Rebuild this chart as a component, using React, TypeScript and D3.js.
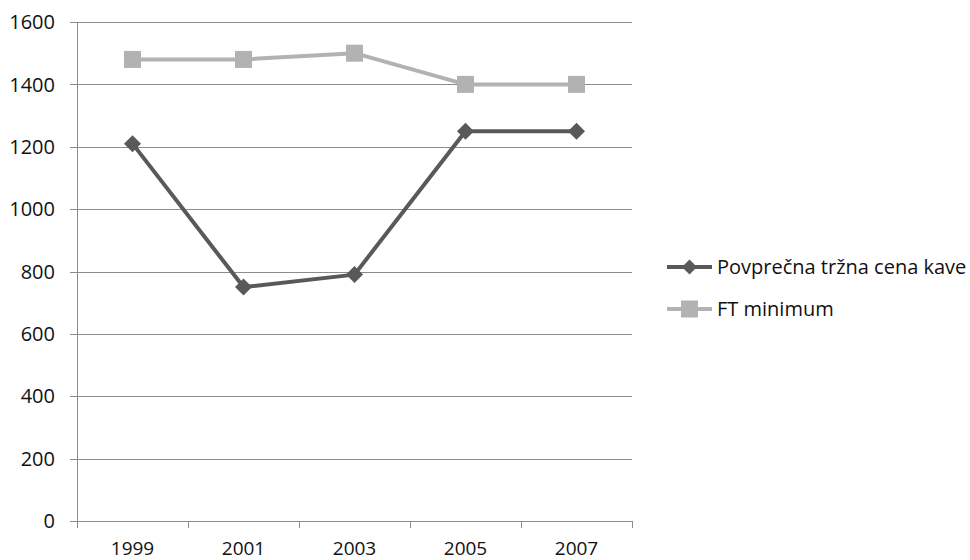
import React from "react";
import * as d3 from "d3";

const years = ["1999", "2001", "2003", "2005", "2007"];
const marketPrice = [1210, 750, 790, 1250, 1250];
const ftMinimum = [1480, 1480, 1500, 1400, 1400];
const yTicks = [0, 200, 400, 600, 800, 1000, 1200, 1400, 1600];
const seriesNames = ["Povprečna tržna cena kave", "FT minimum"];

const W = 970, H = 560;
const left = 77, right = 632, top = 22, bottom = 521;
const FONT = "'Open Sans', sans-serif";
const DARK = "#595959";
const LIGHT = "#b2b2b2";
const GRID = "#8c8c8c";

export default function App() {
  const x = d3.scaleBand<string>().domain(years).range([left, right]).padding(0);
  const y = d3.scaleLinear().domain([0, 1600]).range([bottom, top]);
  const cx = (d: string) => (x(d) as number) + x.bandwidth() / 2;
  const line = d3.line<number>().x((_, i) => cx(years[i])).y((v) => y(v));
  const bandEdges = years.map((d) => x(d) as number).concat([right]);

  const diamond = (px: number, py: number, r: number) =>
    `M${px},${py - r}L${px + r},${py}L${px},${py + r}L${px - r},${py}Z`;

  return (
    <svg width={W} height={H} style={{ position: "absolute", left: 0, top: 0 }}>
      <rect width={W} height={H} fill="#fff" />
      {yTicks.map((t) => (
        <g key={t}>
          <line x1={70} x2={right} y1={Math.round(y(t)) + 0.5} y2={Math.round(y(t)) + 0.5} stroke={GRID} strokeWidth={1} />
          <text x={55} y={y(t)} dy="0.36em" textAnchor="end" fontFamily={FONT} fontSize={20} fill="#111">
            {t}
          </text>
        </g>
      ))}
      <line x1={left + 0.5} x2={left + 0.5} y1={top} y2={bottom} stroke={GRID} />
      {bandEdges.map((e, i) => (
        <line key={i} x1={Math.round(e) + 0.5} x2={Math.round(e) + 0.5} y1={bottom} y2={bottom + 7} stroke={GRID} />
      ))}
      {years.map((d) => (
        <text key={d} x={cx(d)} y={555} textAnchor="middle" fontFamily={FONT} fontSize={19} fill="#111">
          {d}
        </text>
      ))}
      <path d={line(ftMinimum) || ""} fill="none" stroke={LIGHT} strokeWidth={4} strokeLinejoin="round" />
      {ftMinimum.map((v, i) => (
        <rect key={i} x={cx(years[i]) - 8.5} y={y(v) - 8.5} width={17} height={17} fill={LIGHT} />
      ))}
      <path d={line(marketPrice) || ""} fill="none" stroke={DARK} strokeWidth={4} strokeLinejoin="round" />
      {marketPrice.map((v, i) => (
        <path key={i} d={diamond(cx(years[i]), y(v), 8.5)} fill={DARK} />
      ))}
      {/* legend */}
      <g>
        <line x1={667} x2={712} y1={267} y2={267} stroke={DARK} strokeWidth={4} />
        <path d={diamond(689.5, 267, 7.5)} fill={DARK} />
        <text x={717} y={267} dy="0.36em" fontFamily={FONT} fontSize={20} fill="#111">{seriesNames[0]}</text>
        <line x1={667} x2={712} y1={309} y2={309} stroke={LIGHT} strokeWidth={4} />
        <rect x={681} y={300.5} width={17} height={17} fill={LIGHT} />
        <text x={717} y={309} dy="0.36em" fontFamily={FONT} fontSize={20} fill="#111">{seriesNames[1]}</text>
      </g>
    </svg>
  );
}
